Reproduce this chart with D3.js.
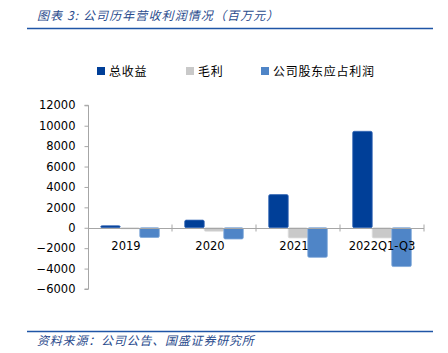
<!DOCTYPE html>
<html><head><meta charset="utf-8">
<script src="https://cdn.jsdelivr.net/npm/d3@7"></script>
<style>
html,body{margin:0;padding:0;background:#fff;}
svg{display:block;}
</style></head>
<body>
<svg id="c" width="448" height="353"></svg>
<script>
const categories = ["2019", "2020", "2021", "2022Q1-Q3"];
const seriesNames = ["总收益", "毛利", "公司股东应占利润"];
const revenue = [200, 750, 3250, 9450];
const grossProfit = [-100, -350, -1000, -1000];
const netProfit = [-950, -1100, -2900, -3800];
const yTicks = [-6000, -4000, -2000, 0, 2000, 4000, 6000, 8000, 10000, 12000];
const colors = ["#003f98", "#c9c9c9", "#4f85c7"];
const strokes = ["#3a6bb8", "#dedede", "#7fa8d9"];

const series = [revenue, grossProfit, netProfit];
const svg = d3.select("#c");
const cjk = "'Noto Sans CJK SC', sans-serif";
const num = "'DejaVu Sans', sans-serif";

// title
svg.append("text").attr("x", 37).attr("y", 20)
  .attr("font-family", cjk).attr("font-size", 12).attr("font-style", "italic")
  .attr("letter-spacing", 1.1).attr("fill", "#2a4b8d")
  .text("图表 3:  公司历年营收利润情况（百万元）");
svg.append("line").attr("x1", 27).attr("x2", 433).attr("y1", 28.5).attr("y2", 28.5)
  .attr("stroke", "#1f55a6").attr("stroke-width", 1.6);

// footer
svg.append("line").attr("x1", 27).attr("x2", 433).attr("y1", 331.5).attr("y2", 331.5)
  .attr("stroke", "#1f55a6").attr("stroke-width", 1.6);
svg.append("text").attr("x", 37).attr("y", 345)
  .attr("font-family", cjk).attr("font-size", 12).attr("font-style", "italic")
  .attr("letter-spacing", 0.8).attr("fill", "#2a4b8d")
  .text("资料来源：公司公告、国盛证券研究所");

// scales
const x0 = d3.scaleBand().domain(categories).range([88, 424]).padding(0);
const x1 = d3.scaleBand().domain(d3.range(3)).range([0, x0.bandwidth()]).paddingInner(0).paddingOuter(0.65);
const y = d3.scaleLinear().domain([-6000, 12000]).range([289, 105.3]);

// y axis
const yAxis = d3.axisLeft(y).tickValues(yTicks).tickSize(4).tickPadding(9).tickFormat(d3.format("d"));
const gy = svg.append("g").attr("transform", "translate(88.5,0)").call(yAxis);
gy.select(".domain").attr("stroke", "#a6a6a6").attr("d", `M-4,${y(12000)}H0V${y(-6000)}H-4`);
gy.selectAll(".tick line").attr("stroke", "#a6a6a6");
gy.selectAll(".tick text").attr("font-family", num).attr("font-size", 11.5).attr("fill", "#000");

// bars
const g = svg.append("g");
categories.forEach((c, i) => {
  series.forEach((s, j) => {
    const v = s[i];
    g.append("rect")
      .attr("x", x0(c) + x1(j))
      .attr("width", x1.bandwidth())
      .attr("y", Math.min(y(v), y(0)))
      .attr("height", Math.abs(y(v) - y(0)))
      .attr("rx", 1.5)
      .attr("fill", colors[j])
      .attr("stroke", strokes[j]).attr("stroke-width", 0.8);
  });
});

// x axis at zero
const xAxisG = svg.append("g").attr("transform", `translate(0,${Math.round(y(0)) + 0.5})`);
xAxisG.append("line").attr("x1", 88).attr("x2", 424).attr("stroke", "#a6a6a6").attr("stroke-width", 1.2);
categories.slice(1).forEach(c => {
  xAxisG.append("line").attr("x1", x0(c)).attr("x2", x0(c)).attr("y1", -4).attr("y2", 3).attr("stroke", "#a6a6a6");
});
xAxisG.append("line").attr("x1", 424).attr("x2", 424).attr("y1", -4).attr("y2", 3).attr("stroke", "#a6a6a6");
categories.forEach((c, i) => {
  xAxisG.append("text")
    .attr("x", x0(c) + x0.bandwidth() / 2 - (i < 3 ? 4 : 0))
    .attr("y", 21)
    .attr("text-anchor", "middle")
    .attr("font-family", num).attr("font-size", 11.5).attr("fill", "#000")
    .text(c);
});

// legend
const legendX = [97, 186, 261];
seriesNames.forEach((n, j) => {
  svg.append("rect").attr("x", legendX[j]).attr("y", 67).attr("width", 8).attr("height", 8)
    .attr("fill", colors[j]);
  svg.append("text").attr("x", legendX[j] + 12).attr("y", 75.5)
    .attr("font-family", cjk).attr("font-size", 12).attr("letter-spacing", 0.7).attr("fill", "#000")
    .text(n);
});
</script>
</body></html>
